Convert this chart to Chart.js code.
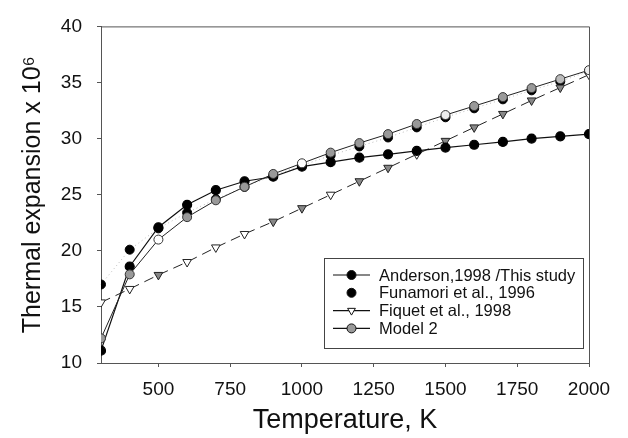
<!DOCTYPE html>
<html>
<head>
<meta charset="utf-8">
<script src="https://cdn.jsdelivr.net/npm/chart.js@4.4.1/dist/chart.umd.min.js"></script>
<style>
  html, body { margin: 0; padding: 0; background: #fff; }
</style>
</head>
<body>
<canvas id="myChart1" width="628" height="438"></canvas>
<script>
// dados
const temperaturas = [300, 400, 500, 600, 700, 800, 900, 1000, 1100, 1200, 1300, 1400, 1500, 1600, 1700, 1800, 1900, 2000];
const anderson = [11.1, 18.6, 22.1, 24.1, 25.4, 26.2, 26.6, 27.5, 27.9, 28.3, 28.6, 28.9, 29.2, 29.45, 29.7, 30.0, 30.2, 30.4];
const funamori = [17.0, 20.1, 22.0, 23.4, 24.6, 25.7, 26.7, 27.6, 28.5, 29.3, 30.1, 31.0, 31.9, 32.7, 33.5, 34.3, 35.1, 36.0];
const fiquet = [15.4, 16.6, 17.85, 19.0, 20.3, 21.5, 22.6, 23.8, 25.0, 26.2, 27.4, 28.6, 29.8, 31.0, 32.2, 33.4, 34.55, 35.7];
const modelo2 = [12.2, 17.9, 21.0, 23.0, 24.5, 25.7, 26.85, 27.8, 28.75, 29.6, 30.4, 31.3, 32.1, 32.9, 33.7, 34.5, 35.3, 36.1];

const nomesSeries = ["Anderson,1998 /This study", "Funamori et al., 1996", "Fiquet et al., 1998", "Model 2"];
const ticksX = [500, 750, 1000, 1250, 1500, 1750, 2000];
const ticksY = [10, 15, 20, 25, 30, 35, 40];

function pontos(valores) {
  return temperaturas.map((t, i) => ({ x: t, y: valores[i] }));
}

Chart.defaults.font.family = '"Liberation Sans", Arial, sans-serif';
Chart.defaults.color = "#111";

// preenchimento irregular dos marcadores (como no original escaneado)
const corTriangulos = ["#fff", "#fff", "#888", "#fff", "#fff", "#fff", "#888", "#888", "#fff",
  "#888", "#888", "#fff", "#888", "#888", "#888", "#888", "#888", "#fff"];
const corModelo = ["#999", "#999", "#fff", "#999", "#999", "#999", "#999", "#fff", "#999",
  "#999", "#999", "#999", "#eee", "#999", "#999", "#999", "#bbb", "#eee"];

// caixa em volta da area do grafico (topo e direita)
const moldura = {
  id: "moldura",
  beforeDatasetsDraw(chart) {
    const ctx = chart.ctx;
    const a = chart.chartArea;
    ctx.save();
    ctx.strokeStyle = "#555";
    ctx.lineWidth = 1;
    ctx.beginPath();
    ctx.moveTo(a.left, a.top + 0.5);
    ctx.lineTo(a.right + 0.5, a.top + 0.5);
    ctx.lineTo(a.right + 0.5, a.bottom);
    ctx.stroke();
    ctx.restore();
  }
};

// legenda dentro do grafico
const legendaInterna = {
  id: "legendaInterna",
  afterDatasetsDraw(chart) {
    const ctx = chart.ctx;
    const a = chart.chartArea;
    const w = 259, h = 90;
    const x0 = a.right - 6 - w;
    const y0 = a.bottom - 15 - h;
    ctx.save();
    ctx.fillStyle = "#fff";
    ctx.fillRect(x0, y0, w, h);
    ctx.strokeStyle = "#444";
    ctx.lineWidth = 1;
    ctx.strokeRect(x0 + 0.5, y0 + 0.5, w, h);

    ctx.font = '16.5px "Liberation Sans", Arial, sans-serif';
    ctx.textBaseline = "middle";
    ctx.textAlign = "left";

    for (let i = 0; i < nomesSeries.length; i++) {
      const ds = chart.data.datasets[i];
      const y = y0 + 17 + i * 17.8;
      if (ds.showLine !== false) {
        ctx.strokeStyle = "#111";
        ctx.lineWidth = 1.2;
        ctx.setLineDash([]);
        ctx.beginPath();
        ctx.moveTo(x0 + 9, y);
        ctx.lineTo(x0 + 46, y);
        ctx.stroke();
      }
      ctx.fillStyle = i == 2 ? "#fff" : (i == 3 ? "#999" : "#000");
      ctx.strokeStyle = "#111";
      ctx.lineWidth = 1;
      Chart.helpers.drawPoint(ctx, {
        pointStyle: ds.pointStyle,
        rotation: ds.pointRotation || 0,
        radius: 4.5,
        borderWidth: 1
      }, x0 + 27.5, y);
      ctx.fillStyle = "#111";
      ctx.fillText(nomesSeries[i], x0 + 55, y + 1);
    }
    ctx.restore();
  }
};

// linha pontilhada fraca do Funamori
const pontilhado = {
  id: "pontilhado",
  beforeDatasetsDraw(chart) {
    const ctx = chart.ctx;
    const sx = chart.scales.x, sy = chart.scales.y;
    ctx.save();
    ctx.strokeStyle = "#bbb";
    ctx.lineWidth = 1;
    ctx.setLineDash([1, 3]);
    ctx.beginPath();
    temperaturas.forEach(function (t, i) {
      const px = sx.getPixelForValue(t), py = sy.getPixelForValue(funamori[i]);
      if (i == 0) ctx.moveTo(px, py); else ctx.lineTo(px, py);
    });
    ctx.stroke();
    ctx.restore();
  }
};

const dados = {
  datasets: [
    {
      label: nomesSeries[0],
      data: pontos(anderson),
      borderColor: "#111",
      borderWidth: 1.2,
      pointStyle: "circle",
      pointRadius: 4.5,
      pointBackgroundColor: "#000",
      pointBorderColor: "#000",
      tension: 0,
      order: 1,
    },
    {
      label: nomesSeries[1],
      data: pontos(funamori),
      pointStyle: "circle",
      pointRadius: 4.5,
      pointBackgroundColor: "#000",
      pointBorderColor: "#000",
      order: 3,
      showLine: false,
    },
    {
      label: nomesSeries[2],
      data: pontos(fiquet),
      borderColor: "#222",
      borderWidth: 1,
      borderDash: [10, 6],
      pointStyle: "triangle",
      pointRotation: 180,
      pointRadius: 5,
      pointBackgroundColor: corTriangulos,
      pointBorderColor: "#222",
      pointBorderWidth: 1,
      tension: 0,
      order: 2,
    },
    {
      label: nomesSeries[3],
      data: pontos(modelo2),
      borderColor: "#222",
      borderWidth: 1,
      pointStyle: "circle",
      pointRadius: 4.5,
      pointBackgroundColor: corModelo,
      pointBorderColor: "#333",
      pointBorderWidth: 1,
      tension: 0,
      order: 0,
    },
  ],
};

const config = {
  type: "line",
  data: dados,
  options: {
    responsive: false,
    animation: false,
    layout: { padding: { top: 23, right: 39, left: 0, bottom: 0 } },
    plugins: {
      legend: { display: false },
      tooltip: { enabled: false },
    },
    scales: {
      x: {
        type: "linear",
        min: 300,
        max: 2000,
        afterBuildTicks: (s) => { s.ticks = ticksX.map((v) => ({ value: v })); },
        afterFit: (s) => { s.height = 75; },
        ticks: { font: { size: 19 }, color: "#111", padding: 11, maxRotation: 0, autoSkip: false, callback: (v) => String(v) },
        grid: { drawOnChartArea: false, tickLength: 4, color: "#555" },
        border: { color: "#555", width: 1 },
        title: { display: true, text: "Temperature, K", font: { size: 27 }, color: "#111", padding: { top: 1, bottom: 1 } },
      },
      y: {
        min: 10,
        max: 40,
        afterBuildTicks: (s) => { s.ticks = ticksY.map((v) => ({ value: v })); },
        afterFit: (s) => { s.width = 101; },
        ticks: { font: { size: 19 }, color: "#111", padding: 15, callback: (v) => String(v) },
        grid: { drawOnChartArea: false, tickLength: 4, color: "#555" },
        border: { color: "#555", width: 1 },
        title: { display: true, text: "Thermal expansion x 10\u2076", font: { size: 25 }, color: "#111", padding: { top: 18, bottom: 0 } },
      },
    },
  },
  plugins: [moldura, pontilhado, legendaInterna],
};

let myChart = new Chart(document.getElementById("myChart1"), config);
</script>
</body>
</html>
